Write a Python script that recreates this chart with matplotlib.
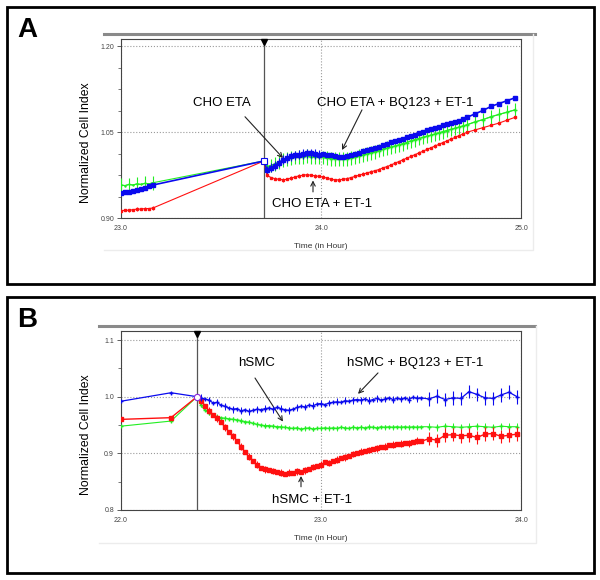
import numpy as np
import matplotlib
matplotlib.use("Agg")
import matplotlib.pyplot as plt
from matplotlib.patches import Rectangle
from matplotlib.lines import Line2D
from matplotlib.ticker import MultipleLocator

plt.rcParams['font.family'] = ['Liberation Sans', 'DejaVu Sans']

# ---------------- Panel A data (CHO ETA cells) ----------------
A_time = [23.00, 23.02, 23.04, 23.06, 23.08, 23.10, 23.12, 23.14, 23.16,
          23.715,
          23.73, 23.75, 23.77, 23.79, 23.81, 23.83, 23.85, 23.87, 23.89, 23.91,
          23.93, 23.95, 23.97, 23.99, 24.01, 24.03, 24.05, 24.07, 24.09, 24.11,
          24.13, 24.15, 24.17, 24.19, 24.21, 24.23, 24.25, 24.27, 24.29, 24.31,
          24.33, 24.35, 24.37, 24.39, 24.41, 24.43, 24.45, 24.47, 24.49, 24.51,
          24.53, 24.55, 24.57, 24.59, 24.61, 24.63, 24.65, 24.67, 24.69, 24.71,
          24.73,
          24.77, 24.81, 24.85, 24.89, 24.93, 24.97]
A_blue = [0.944, 0.946, 0.945, 0.948, 0.949, 0.951, 0.953, 0.956, 0.958,
          1.000,
          0.984, 0.988, 0.992, 0.997, 1.002, 1.005, 1.008, 1.010, 1.011, 1.012,
          1.013, 1.013, 1.012, 1.011, 1.012, 1.011, 1.010, 1.009, 1.007, 1.007,
          1.008, 1.010, 1.012, 1.014, 1.017, 1.019, 1.021, 1.023, 1.025, 1.027,
          1.030, 1.033, 1.035, 1.037, 1.039, 1.042, 1.044, 1.046, 1.049, 1.051,
          1.054, 1.056, 1.058, 1.060, 1.062, 1.064, 1.066, 1.068, 1.070, 1.073,
          1.076,
          1.082, 1.088, 1.095, 1.100, 1.105, 1.110]
A_green = [0.958, 0.957, 0.959, 0.958, 0.960, 0.959, 0.961, 0.960, 0.962,
           1.000,
           0.990, 0.992, 0.995, 0.998, 1.001, 1.003, 1.005, 1.006, 1.007, 1.007,
           1.008, 1.007, 1.007, 1.006, 1.006, 1.005, 1.004, 1.004, 1.003, 1.003,
           1.004, 1.005, 1.006, 1.008, 1.010, 1.012, 1.014, 1.016, 1.018, 1.020,
           1.022, 1.024, 1.026, 1.028, 1.030, 1.032, 1.035, 1.037, 1.039, 1.041,
           1.043, 1.045, 1.047, 1.049, 1.051, 1.053, 1.055, 1.057, 1.059, 1.061,
           1.063,
           1.068, 1.072, 1.077, 1.081, 1.085, 1.089]
A_red = [0.913, 0.914, 0.914, 0.915, 0.916, 0.916, 0.917, 0.917, 0.918,
         1.000,
         0.975, 0.971, 0.969, 0.968, 0.967, 0.968, 0.970, 0.972, 0.974, 0.975,
         0.976, 0.975, 0.974, 0.973, 0.972, 0.970, 0.968, 0.967, 0.967, 0.968,
         0.969, 0.971, 0.973, 0.975, 0.977, 0.979, 0.981, 0.983, 0.985, 0.988,
         0.990, 0.993, 0.996, 0.999, 1.002, 1.005, 1.008, 1.011, 1.014, 1.017,
         1.020, 1.023, 1.026, 1.029, 1.032, 1.035, 1.038, 1.041, 1.044, 1.047,
         1.050,
         1.054, 1.058, 1.062, 1.066, 1.071, 1.076]
A_green_err = 0.012
A_blue_err = 0.008
A_red_err = 0.003
A_add_time = 23.715
A_yticks = [0.90, 1.05, 1.20]
A_xticks = [23.0, 24.0, 25.0]

# ---------------- Panel B data (hSMC cells) ----------------
B_time = [22.00, 22.25,
          22.38,
          22.40, 22.42, 22.44, 22.46, 22.48, 22.50, 22.52, 22.54, 22.56, 22.58,
          22.60, 22.62, 22.64, 22.66, 22.68, 22.70, 22.72, 22.74, 22.76, 22.78,
          22.80, 22.82, 22.84, 22.86, 22.88, 22.90, 22.92, 22.94, 22.96, 22.98,
          23.00, 23.02, 23.04, 23.06, 23.08, 23.10, 23.12, 23.14, 23.16, 23.18,
          23.20, 23.22, 23.24, 23.26, 23.28, 23.30, 23.32, 23.34, 23.36, 23.38,
          23.40, 23.42, 23.44, 23.46, 23.48, 23.50,
          23.54, 23.58, 23.62, 23.66, 23.70, 23.74, 23.78, 23.82, 23.86, 23.90,
          23.94, 23.98]
B_blue = [0.992, 1.007,
          1.000,
          0.998, 0.996, 0.994, 0.989, 0.990, 0.985, 0.983, 0.980, 0.978, 0.979,
          0.975, 0.977, 0.974, 0.976, 0.978, 0.977, 0.979, 0.980, 0.978, 0.981,
          0.979, 0.977, 0.976, 0.978, 0.981, 0.983, 0.982, 0.985, 0.984, 0.987,
          0.988, 0.986, 0.989, 0.990, 0.991, 0.990, 0.993, 0.992, 0.994, 0.995,
          0.994, 0.996, 0.993, 0.995, 0.997, 0.994, 0.996, 0.998, 0.995, 0.997,
          0.996, 0.998, 0.995, 0.999, 0.997, 0.998,
          0.996, 1.001, 0.995, 0.998, 0.997, 1.009, 1.004, 0.998, 0.997, 1.003,
          1.008, 1.000]
B_green = [0.948, 0.957,
           1.000,
           0.985, 0.976, 0.971, 0.968, 0.965, 0.963, 0.962, 0.961, 0.960, 0.959,
           0.958, 0.956, 0.955, 0.953, 0.951, 0.950, 0.949, 0.949, 0.948, 0.947,
           0.947, 0.946, 0.945, 0.944, 0.945, 0.943, 0.944, 0.945, 0.943, 0.944,
           0.944, 0.945, 0.944, 0.945, 0.944, 0.946, 0.945, 0.944, 0.946, 0.945,
           0.946, 0.945, 0.947, 0.946, 0.945, 0.947, 0.946, 0.947, 0.946, 0.947,
           0.946, 0.947, 0.946, 0.947, 0.946, 0.947,
           0.947, 0.946, 0.948, 0.947, 0.946, 0.947, 0.948, 0.947, 0.946, 0.948,
           0.947, 0.947]
B_red = [0.960, 0.963,
         1.000,
         0.993, 0.984, 0.975, 0.968, 0.962, 0.956, 0.946, 0.938, 0.930, 0.922,
         0.912, 0.902, 0.894, 0.887, 0.880, 0.874, 0.872, 0.870, 0.869, 0.867,
         0.866, 0.864, 0.866, 0.865, 0.868, 0.867, 0.870, 0.873, 0.876, 0.878,
         0.880, 0.884, 0.883, 0.887, 0.889, 0.891, 0.893, 0.896, 0.899, 0.901,
         0.903, 0.905, 0.906, 0.908, 0.909, 0.911, 0.912, 0.914, 0.915, 0.916,
         0.917, 0.918, 0.918, 0.920, 0.922, 0.921,
         0.926, 0.923, 0.932, 0.933, 0.931, 0.932, 0.928, 0.934, 0.935, 0.930,
         0.932, 0.934]
B_dense_err = 0.006
B_sparse_err = 0.012
B_green_err = 0.004
B_add_time = 22.38
B_yticks = [0.8, 0.9, 1.0, 1.1]
B_xticks = [22.0, 23.0, 24.0]

BLUE = '#0a0aee'
GREEN = '#22ee22'
RED = '#ff1010'
GRIDC = '#9a9a9a'

fig = plt.figure(figsize=(6.0, 5.8), dpi=100)


def style_axes(ax, xlim, ylim, xticks, yticks, yminor, yfmt):
    ax.set_xlim(*xlim)
    ax.set_ylim(*ylim)
    ax.set_xticks(xticks)
    ax.set_xticklabels([f'{v:.1f}' for v in xticks])
    ax.set_yticks(yticks)
    ax.set_yticklabels([yfmt.format(v) for v in yticks])
    ax.yaxis.set_minor_locator(MultipleLocator(yminor))
    ax.tick_params(axis='x', length=0, labelsize=5, colors='#444444', pad=5)
    ax.tick_params(axis='y', which='major', length=3, width=0.6, labelsize=5,
                   colors='#444444', pad=2)
    ax.tick_params(axis='y', which='minor', length=2, width=0.5, colors='#444444')
    for s in ax.spines.values():
        s.set_color('#444444')
        s.set_linewidth(0.8)
    ax.grid(True, which='major', linestyle=':', color=GRIDC, linewidth=0.8)
    ax.set_axisbelow(True)
    ax.set_ylabel('Normalized Cell Index', fontsize=8.8)
    ax.yaxis.set_label_coords(-0.072, 0.42)
    ax.set_xlabel('Time (in Hour)', fontsize=6, color='#333333')
    ax.xaxis.set_label_coords(0.5, -0.14)


def panel_frame(label, box, topline, bottom_y, right_x):
    x0, y0, x1, y1 = box
    fig.add_artist(Rectangle((x0 / 600, 1 - y1 / 580), (x1 - x0) / 600, (y1 - y0) / 580,
                             transform=fig.transFigure, fill=False, lw=2, ec='black'))
    fig.text((x0 + 10) / 600, 1 - (y0 + 23) / 580, label, fontsize=20,
             fontweight='bold', va='center', ha='left')
    tx0, tx1, ty = topline
    fig.add_artist(Line2D([tx0 / 600, tx1 / 600], [1 - ty / 580, 1 - ty / 580],
                          transform=fig.transFigure, color='#8a8a8a', lw=2.2))
    fig.add_artist(Line2D([tx0 / 600, right_x / 600, right_x / 600],
                          [1 - bottom_y / 580, 1 - bottom_y / 580, 1 - ty / 580],
                          transform=fig.transFigure, color='#ececec', lw=1))


def add_marker(ax, xv):
    ax.axvline(xv, color='#555555', lw=0.9, zorder=1)
    ax.plot([xv], [0.985], marker='v', color='black', ms=4,
            transform=ax.get_xaxis_transform(), clip_on=False, zorder=6)


def note(ax, text, xy, xytext, tpos):
    ax.annotate('', xy=xy, xytext=xytext,
                arrowprops=dict(arrowstyle='->', color='#222222', lw=0.8,
                                shrinkA=0, shrinkB=0, mutation_scale=8))
    ax.text(tpos[0], tpos[1], text, fontsize=9.5, ha='center', va='center', zorder=8)


# ================= Panel A =================
panel_frame('A', (7, 7, 594, 284), (104, 535, 34), 250, 533)
axA = fig.add_axes([121 / 600, 1 - 218.3 / 580, 400 / 600, 179 / 580])
style_axes(axA, (23.0, 25.0), (0.90, 1.212), A_xticks, A_yticks, 0.0375, '{:.2f}')
add_marker(axA, A_add_time)

tA = np.array(A_time)
bA = np.array(A_blue)
gA = np.array(A_green)
rA = np.array(A_red)
pre = tA < 23.5
post = tA > 23.72

axA.errorbar(tA[pre], gA[pre], yerr=A_green_err, color=GREEN, lw=0.8,
             elinewidth=0.8, capsize=0, marker='+', ms=2, errorevery=2, zorder=3)
axA.errorbar(tA[post], gA[post], yerr=A_green_err, color=GREEN, lw=0.8,
             elinewidth=0.8, capsize=0, marker='+', ms=2.5, errorevery=1, zorder=3)
axA.plot(tA, gA, color=GREEN, lw=0.8, zorder=3)
axA.errorbar(tA, rA, yerr=A_red_err, color=RED, lw=0.8, elinewidth=0.6,
             capsize=0, marker='s', ms=1.6, errorevery=2, zorder=4)
early = (tA > 23.72) & (tA < 24.0)
axA.errorbar(tA[early], bA[early], yerr=A_blue_err, color=BLUE, lw=0,
             elinewidth=0.8, capsize=0, zorder=4)
axA.plot(tA, bA, color=BLUE, lw=1.2, marker='s', ms=2.6, zorder=5)
axA.plot([A_add_time], [1.0], marker='s', ms=5, mfc='white', mec=BLUE,
         mew=0.8, zorder=7)

note(axA, 'CHO ETA', (23.81, 1.005), (23.62, 1.077), (23.505, 1.1015))
note(axA, 'CHO ETA + BQ123 + ET-1', (24.105, 1.019), (24.205, 1.089), (24.37, 1.1015))
note(axA, 'CHO ETA + ET-1', (23.96, 0.966), (23.96, 0.946), (24.005, 0.925))

# ================= Panel B =================
panel_frame('B', (7, 297, 594, 573), (99, 535, 326), 543, 536)
axB = fig.add_axes([121 / 600, 1 - 510 / 580, 400 / 600, 179 / 580])
style_axes(axB, (22.0, 24.0), (0.80, 1.116), B_xticks, B_yticks, 0.05, '{:.1f}')
add_marker(axB, B_add_time)

tB = np.array(B_time)
bB = np.array(B_blue)
gB = np.array(B_green)
rB = np.array(B_red)
dense = (tB > 22.39) & (tB < 23.51)
sparse = tB > 23.51

axB.plot(tB, gB, color=GREEN, lw=0.8, marker='+', ms=2.5, zorder=3)
axB.errorbar(tB[dense], gB[dense], yerr=B_green_err, color=GREEN, lw=0,
             elinewidth=0.6, capsize=0, errorevery=2, zorder=3)
axB.errorbar(tB[sparse], gB[sparse], yerr=B_green_err * 1.5, color=GREEN, lw=0,
             elinewidth=0.7, capsize=0, zorder=3)

axB.plot(tB, rB, color=RED, lw=1.0, marker='s', ms=2.2, zorder=4)
axB.errorbar(tB[dense], rB[dense], yerr=B_dense_err, color=RED, lw=0,
             elinewidth=0.7, capsize=0, errorevery=2, zorder=4)
axB.errorbar(tB[sparse], rB[sparse], yerr=B_sparse_err, color=RED, lw=0,
             elinewidth=0.8, capsize=0, zorder=4)

axB.plot(tB, bB, color=BLUE, lw=0.9, marker='+', ms=2.8, zorder=5)
axB.errorbar(tB[dense], bB[dense], yerr=B_dense_err, color=BLUE, lw=0,
             elinewidth=0.7, capsize=0, errorevery=2, zorder=5)
axB.errorbar(tB[sparse], bB[sparse], yerr=B_sparse_err, color=BLUE, lw=0,
             elinewidth=0.8, capsize=0, zorder=5)
axB.plot([B_add_time], [1.0], marker='o', ms=4.5, mfc='white', mec='#8a2be2',
         mew=0.8, zorder=7)

note(axB, 'hSMC', (22.81, 0.956), (22.67, 1.033), (22.68, 1.059))
note(axB, 'hSMC + BQ123 + ET-1', (23.185, 1.005), (23.285, 1.042), (23.47, 1.059))
note(axB, 'hSMC + ET-1', (22.90, 0.860), (22.90, 0.841), (22.955, 0.818))

fig.savefig('out.png', dpi=100, facecolor='white')
